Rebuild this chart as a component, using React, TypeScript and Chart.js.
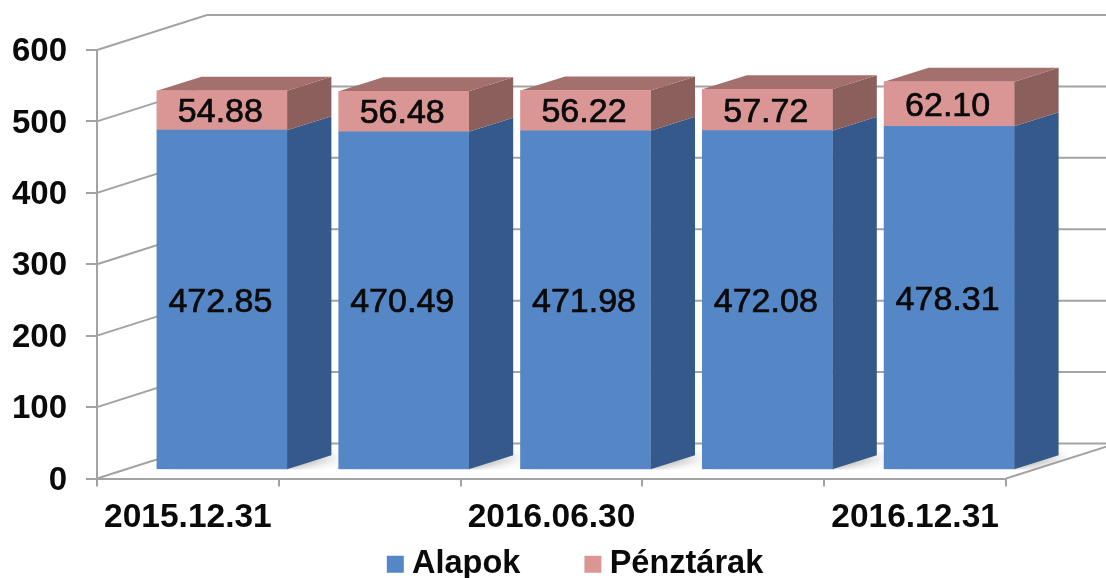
import React, { useEffect, useRef } from "react";
import { Chart, registerables } from "chart.js";

Chart.register(...registerables);

const categories = ["2015.12.31", "2016.03.31", "2016.06.30", "2016.09.30", "2016.12.31"];
const alapok = [472.85, 470.49, 471.98, 472.08, 478.31];
const penztarak = [54.88, 56.48, 56.22, 57.72, 62.1];

const FONT = "'Liberation Sans', Arial, sans-serif";
const GRID = "#a3a3a3";
const WALL_DX = 110;
const WALL_DY = -35;
const BAR_SHIFT_X = 34;
const BAR_SHIFT_Y = -9.3;
const BAR_DX = 44.5;
const BAR_DY = -14;
const BLUE = ["#5587c6", "#34598a"];
const PINK = ["#d99694", "#8b5f5c", "#a4706e"];

const poly = (ctx: CanvasRenderingContext2D, pts: number[][], fill: string) => {
  ctx.beginPath();
  pts.forEach(([x, y], i) => (i ? ctx.lineTo(x, y) : ctx.moveTo(x, y)));
  ctx.closePath();
  ctx.fillStyle = fill;
  ctx.fill();
};

const threeD = {
  id: "threeD",
  afterLayout(chart: any) {
    const lg = chart.legend;
    lg.left += 76;
    lg.right += 76;
    lg.top = 476;
  },
  beforeDatasetsDraw(chart: any) {
    const { ctx, chartArea: a, scales } = chart;
    const W = chart.width + 20;
    ctx.save();
    ctx.strokeStyle = GRID;
    ctx.lineWidth = 2;
    // floor
    const y0 = scales.y.getPixelForValue(0);
    ctx.beginPath();
    ctx.moveTo(a.right, y0);
    ctx.lineTo(a.right + WALL_DX, y0 + WALL_DY);
    ctx.stroke();
    // wall grid lines
    scales.y.ticks.forEach((t: any) => {
      const y = scales.y.getPixelForValue(t.value);
      ctx.beginPath();
      ctx.moveTo(a.left, y);
      ctx.lineTo(a.left + WALL_DX, y + WALL_DY);
      ctx.lineTo(W, y + WALL_DY);
      ctx.stroke();
    });
    // soft floor shadow
    ctx.save();
    ctx.beginPath();
    ctx.moveTo(a.left + 28, y0 - 9);
    ctx.lineTo(a.left + WALL_DX, y0 + WALL_DY + 1);
    ctx.lineTo(a.right + WALL_DX, y0 + WALL_DY + 1);
    ctx.lineTo(a.right + 28, y0 - 9);
    ctx.closePath();
    ctx.clip();
    ctx.filter = "blur(5px)";
    const base = chart.getDatasetMeta(0);
    base.data.forEach((b: any) => {
      const r = b.x + b.width / 2 + BAR_SHIFT_X;
      const yb = b.base + BAR_SHIFT_Y;
      const l = b.x - b.width / 2 + BAR_SHIFT_X;
      poly(ctx, [[l, yb - 2], [r, yb - 2], [r + BAR_DX + 10, yb + BAR_DY + 2], [l + BAR_DX, yb + BAR_DY]], "#8f8f8f");
    });
    ctx.restore();
    ctx.restore();

    ctx.save();
    ctx.translate(BAR_SHIFT_X, BAR_SHIFT_Y);
    chart.data.datasets.forEach((_: any, d: number) => {
      const cols = d === 0 ? BLUE : PINK;
      chart.getDatasetMeta(d).data.forEach((b: any) => {
        const r = b.x + b.width / 2;
        const l = b.x - b.width / 2;
        poly(ctx, [[r, b.y], [r + BAR_DX, b.y + BAR_DY], [r + BAR_DX, b.base + BAR_DY], [r, b.base]], cols[1]);
        if (d === 1) {
          poly(ctx, [[l, b.y], [l + BAR_DX, b.y + BAR_DY], [r + BAR_DX, b.y + BAR_DY], [r, b.y]], cols[2]);
        }
      });
    });
  },
  afterDatasetsDraw(chart: any) {
    const { ctx } = chart;
    ctx.fillStyle = "#0a0a0a";
    ctx.strokeStyle = "#0a0a0a";
    ctx.lineWidth = 0.7;
    ctx.font = `34px ${FONT}`;
    ctx.textAlign = "center";
    ctx.textBaseline = "middle";
    chart.data.datasets.forEach((ds: any, d: number) => {
      chart.getDatasetMeta(d).data.forEach((b: any, i: number) => {
        const t = ds.data[i].toFixed(2);
        const y = (b.y + b.base) / 2 + 2.5;
        ctx.fillText(t, b.x - 1.5, y);
        ctx.strokeText(t, b.x - 1.5, y);
      });
    });
    ctx.restore();
  },
};

export default function App() {
  const ref = useRef<HTMLCanvasElement>(null);
  useEffect(() => {
    document.body.style.margin = "0";
    const chart = new Chart(ref.current!, {
      type: "bar",
      plugins: [threeD],
      data: {
        labels: categories,
        datasets: [
          { label: "Alapok", data: alapok, backgroundColor: BLUE[0], yAxisID: "yBars", barThickness: 130 },
          { label: "Pénztárak", data: penztarak, backgroundColor: PINK[0], yAxisID: "yBars", barThickness: 130 },
        ],
      },
      options: {
        responsive: false,
        animation: false,
        events: [],
        layout: { padding: { top: 50, right: 100, bottom: -75, left: 0 } },
        plugins: {
          tooltip: { enabled: false },
          legend: {
            position: "bottom",
            labels: {
              usePointStyle: true,
              pointStyle: "rect",
              boxWidth: 1,
              boxHeight: 17,
              padding: 72,
              color: "#0a0a0a",
              font: { family: FONT, size: 32.5, weight: "bold" },
            },
          },
        },
        scales: {
          x: {
            stacked: true,
            grid: { drawOnChartArea: false, color: GRID, lineWidth: 2, tickLength: 8 },
            border: { color: GRID, width: 2 },
            ticks: {
              autoSkip: false,
              maxRotation: 0,
              padding: 11,
              color: "#0a0a0a",
              font: { family: FONT, size: 33.5, weight: "bold" },
              callback: (_v: any, i: number) => (i % 2 ? "" : categories[i]),
            },
            afterFit: (s: any) => { s.height = 60; },
          },
          y: {
            min: 0,
            max: 600,
            grid: { drawOnChartArea: false, color: GRID, lineWidth: 2, tickLength: 11 },
            border: { color: GRID, width: 2 },
            ticks: {
              stepSize: 100,
              padding: 19,
              labelOffset: 2,
              color: "#0a0a0a",
              font: { family: FONT, size: 33, weight: "bold" },
            },
            afterFit: (s: any) => { s.width = 97; },
          },
          yBars: { display: false, stacked: true, min: 0, max: 597.6 },
        },
      },
    } as any);
    return () => chart.destroy();
  }, []);
  return <canvas ref={ref} width={1106} height={578} style={{ display: "block", filter: "blur(0.5px)" }} />;
}
